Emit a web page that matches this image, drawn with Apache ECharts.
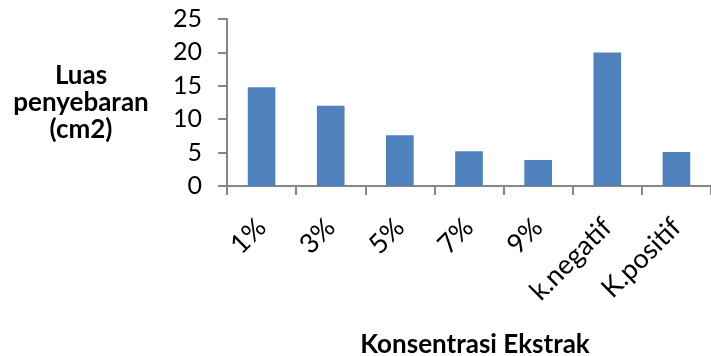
<!DOCTYPE html>
<html>
<head>
<meta charset="utf-8">
<script src="https://cdn.jsdelivr.net/npm/echarts@6/dist/echarts.min.js"></script>
<style>
  html, body { margin: 0; padding: 0; background: #fff; }
  #chart { width: 711px; height: 356px; }
</style>
</head>
<body>
<div id="chart"></div>
<script>
// Spreading area per extract concentration
const categories = ['1%', '3%', '5%', '7%', '9%', 'k.negatif', 'K.positif'];
const luasPenyebaran = [14.8, 12.0, 7.6, 5.2, 3.9, 20.0, 5.1];
const yTicks = { min: 0, max: 25, interval: 5 };

const axisGray = '#868686';
const fontFamily = 'Lato, "Open Sans", sans-serif';

const chart = echarts.init(document.getElementById('chart'));
chart.setOption({
  animation: false,
  grid: {
    left: 227, right: 0, top: 19, bottom: 170,
    containLabel: false, outerBoundsMode: 'none'
  },
  xAxis: {
    type: 'category',
    data: categories,
    name: 'Konsentrasi Ekstrak',
    nameLocation: 'middle',
    nameGap: 146,
    nameTextStyle: {
      fontFamily, fontWeight: 'bold', fontSize: 26, color: '#000',
      padding: [0, 0, 0, 12]
    },
    axisLine: { lineStyle: { color: axisGray, width: 2 } },
    axisTick: { show: true, length: 9, lineStyle: { color: axisGray, width: 2 } },
    axisLabel: {
      rotate: 45, margin: 37, interval: 0,
      fontFamily, fontSize: 27, color: '#000'
    }
  },
  yAxis: {
    type: 'value',
    min: yTicks.min, max: yTicks.max, interval: yTicks.interval,
    name: 'Luas\npenyebaran\n(cm2)',
    nameLocation: 'middle',
    nameRotate: 0,
    nameGap: 146,
    nameTextStyle: {
      fontFamily, fontWeight: 'bold', fontSize: 26, color: '#000',
      lineHeight: 27, align: 'center', verticalAlign: 'middle',
      padding: [0, 0, 8, 0]
    },
    splitLine: { show: false },
    axisLine: { show: true, lineStyle: { color: axisGray, width: 2 } },
    axisTick: { show: true, length: 9, lineStyle: { color: axisGray, width: 2 } },
    axisLabel: { margin: 25, fontFamily, fontSize: 25, color: '#000' }
  },
  series: [{
    type: 'bar',
    data: luasPenyebaran,
    barWidth: '40%',
    itemStyle: { color: '#4f81bd' }
  }]
});
</script>
</body>
</html>
